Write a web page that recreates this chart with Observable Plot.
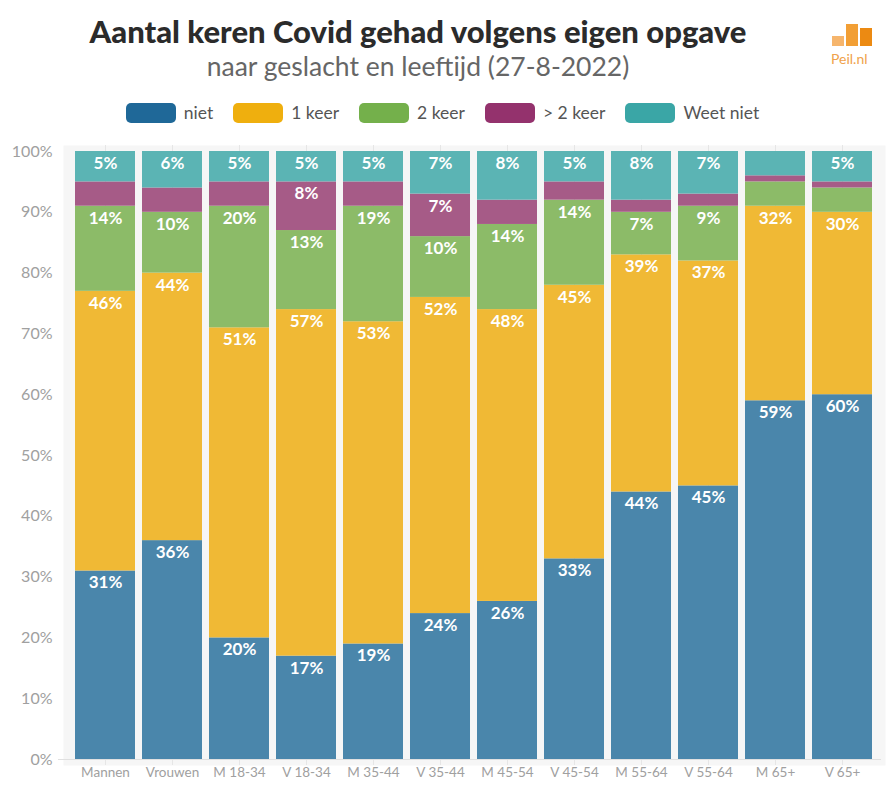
<!DOCTYPE html>
<html>
<head>
<meta charset="utf-8">
<script src="https://cdn.jsdelivr.net/npm/d3@7"></script>
<script src="https://cdn.jsdelivr.net/npm/@observablehq/plot@0.6"></script>
<style>
  body { margin: 0; background: #fff; font-family: Lato, "Open Sans", sans-serif; }
  #wrap { position: relative; width: 891px; height: 798px; }
  #header { position: relative; width: 891px; height: 140px; }
  #title { position: absolute; left: 0; width: 836px; top: 11px; text-align: center; font-weight: 900; font-size: 31px; color: #2b2b2b; line-height: 40px; }
  #subtitle { position: absolute; left: 0; width: 836px; top: 49px; text-align: center; font-size: 26.5px; color: #666; line-height: 34px; }
  #legend { position: absolute; left: 0; width: 885px; top: 102px; display: flex; justify-content: center; gap: 0; font-size: 17.5px; color: #555; }
  .item { display: flex; align-items: center; margin: 0 10px; }
  .sw { width: 50px; height: 20px; border-radius: 5px; margin-right: 8px; }
  #logo { position: absolute; left: 828px; top: 18px; width: 50px; height: 50px; }
  #logo .b { position: absolute; bottom: 22px; width: 12px; }
  #logo .t { position: absolute; left: 3px; top: 32px; font-size: 14px; color: #f0a24a; }
</style>
</head>
<body>
<div id="wrap">
  <div id="header">
    <div id="title">Aantal keren Covid gehad volgens eigen opgave</div>
    <div id="subtitle">naar geslacht en leeftijd (27-8-2022)</div>
    <div id="legend"></div>
    <div id="logo">
      <div class="b" style="left:4px;height:10px;background:#f6b56c"></div>
      <div class="b" style="left:18px;height:22px;background:#f29f35"></div>
      <div class="b" style="left:32px;height:18px;background:#ec8a12"></div>
      <div class="t">Peil.nl</div>
    </div>
  </div>
  <div id="chart"></div>
</div>
<script>
const categories = ["Mannen","Vrouwen","M 18-34","V 18-34","M 35-44","V 35-44","M 45-54","V 45-54","M 55-64","V 55-64","M 65+","V 65+"];
const seriesNames = ["niet","1 keer","2 keer","> 2 keer","Weet niet"];
const niet     = [31,36,20,17,19,24,26,33,44,45,59,60];
const eenKeer  = [46,44,51,57,53,52,48,45,39,37,32,30];
const tweeKeer = [14,10,20,13,19,10,14,14, 7, 9, 4, 4];
const meerKeer = [ 4, 4, 4, 8, 4, 7, 4, 3, 2, 2, 1, 1];
const weetNiet = [ 5, 6, 5, 5, 5, 7, 8, 5, 8, 7, 4, 5];
const yTicks = [0,10,20,30,40,50,60,70,80,90,100];

const barColors = ["#4a86ab","#f0b935","#8cbb68","#a65b87","#5bb4b4"];
const legendColors = ["#1f6898","#efaf0e","#74b04b","#94326d","#3aa6a6"];

const seriesValues = [niet, eenKeer, tweeKeer, meerKeer, weetNiet];
const data = [];
seriesNames.forEach((s, si) => {
  categories.forEach((c, ci) => data.push({cat: c, serie: s, value: seriesValues[si][ci]}));
});

// legend
const leg = document.getElementById("legend");
seriesNames.forEach((s, i) => {
  const it = document.createElement("div");
  it.className = "item";
  it.innerHTML = `<div class="sw" style="background:${legendColors[i]}"></div><span>${s}</span>`;
  leg.appendChild(it);
});

const chart = Plot.plot({
  width: 891,
  height: 658,
  marginTop: 11,
  marginBottom: 39,
  marginLeft: 66,
  marginRight: 10,
  style: {fontFamily: "Lato, 'Open Sans', sans-serif", background: "transparent"},
  x: {domain: categories, padding: 0.1, label: null, tickSize: 0, tickPadding: 8},
  y: {domain: [0, 100], ticks: yTicks, label: null, tickSize: 0, tickPadding: 14, tickFormat: d => d + "%"},
  color: {domain: seriesNames, range: barColors},
  marks: [
    Plot.frame({fill: "#f6f6f6", stroke: null, insetTop: -6, insetBottom: -6, insetLeft: -3, insetRight: -4}),
    Plot.gridX({stroke: "#e6e6e6", strokeOpacity: 1, insetTop: -6, insetBottom: -6}),
    Plot.ruleY([0], {stroke: "#e0e0e0", insetLeft: -8}),
    Plot.barY(data, Plot.stackY({x: "cat", y: "value", z: "serie", fill: "serie"})),
    Plot.text(data, Plot.stackY2({
      x: "cat", y: "value", z: "serie",
      text: d => d.value >= 5 ? d.value + "%" : null,
      dy: 12, fill: "white", fontWeight: "700", fontSize: 17
    }))
  ]
});
const xl = chart.querySelector('[aria-label="x-axis tick label"]');
if (xl) { xl.setAttribute("font-size", "13.5"); xl.setAttribute("fill", "#a0a0a0"); }
const yl = chart.querySelector('[aria-label="y-axis tick label"]');
if (yl) { yl.setAttribute("font-size", "16"); yl.setAttribute("fill", "#a0a0a0"); }
document.getElementById("chart").appendChild(chart);
</script>
</body>
</html>
